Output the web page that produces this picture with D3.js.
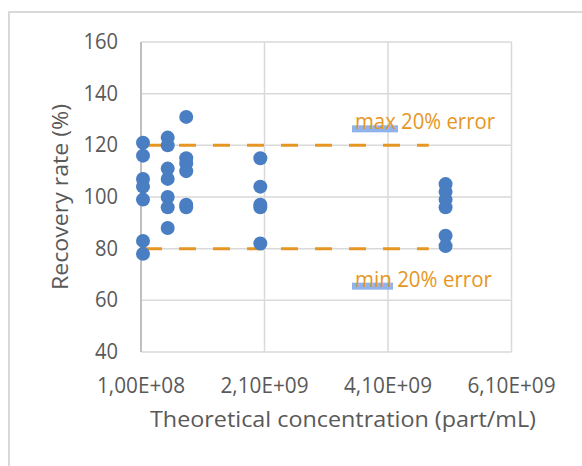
<!DOCTYPE html>
<html>
<head>
<meta charset="utf-8">
<script src="https://cdn.jsdelivr.net/npm/d3@7"></script>
<style>
  body { margin: 0; background: #fff; }
  text { font-family: "Open Sans", sans-serif; fill: #595959; }
</style>
</head>
<body>
<script>
// measured points, x = theoretical concentration, y = recovery rate (%)
const concentrations = [1e8, 5e8, 8e8, 2e9, 5e9]
const recoveryByConc = [
  [121, 116, 107, 104, 99, 83, 78],
  [123, 120, 111, 107, 100, 96, 88],
  [131, 115, 113, 110, 97, 96],
  [115, 104, 97, 96, 82],
  [105, 102, 99, 96, 85, 81]
]
const xTicks = [1e8, 2.1e9, 4.1e9, 6.1e9]
const yTicks = [40, 60, 80, 100, 120, 140, 160]
const limits = [
  { label: 'max 20% error', value: 120 },
  { label: 'min 20% error', value: 80 }
]
const limitRange = [1e8, 4.76e9]

const width = 582
const height = 466
const margin = { top: 42, right: 70, bottom: 114, left: 141 }

const svg = d3.select('body')
  .append('svg')
  .attr('width', width)
  .attr('height', height)

// outer chart frame
svg.append('rect')
  .attr('x', 9).attr('y', 12)
  .attr('width', width).attr('height', height)
  .attr('fill', 'none')
  .attr('stroke', '#d9d9d9')
  .attr('stroke-width', 2)

const x = d3.scaleLinear()
  .domain([1e8, 6.1e9])
  .range([margin.left, width - margin.right - 0.5])

const y = d3.scaleLinear()
  .domain([40, 160])
  .range([height - margin.bottom, margin.top])

const fmt = d => d3.format('.2e')(d).replace('.', ',').replace('e+', 'E+0').toUpperCase()

// grid
const grid = svg.append('g')
grid.selectAll('.hgrid')
  .data(yTicks)
  .enter()
  .append('line')
  .attr('x1', x.range()[0]).attr('x2', x.range()[1])
  .attr('y1', d => y(d)).attr('y2', d => y(d))
  .attr('stroke', '#d9d9d9')
  .attr('stroke-width', 1.5)
grid.selectAll('.vgrid')
  .data(xTicks)
  .enter()
  .append('line')
  .attr('x1', d => x(d)).attr('x2', d => x(d))
  .attr('y1', y.range()[0]).attr('y2', y.range()[1])
  .attr('stroke', d => d === xTicks[0] ? '#bfbfbf' : '#d9d9d9')
  .attr('stroke-width', d => d === xTicks[0] ? 2 : 1.5)

// tick labels
svg.append('g')
  .selectAll('text')
  .data(yTicks)
  .enter()
  .append('text')
  .attr('x', margin.left - 23)
  .attr('y', d => y(d) + 7)
  .attr('text-anchor', 'end')
  .attr('font-size', 21)
  .attr('textLength', d => String(d).length * 11.5)
  .attr('lengthAdjust', 'spacingAndGlyphs')
  .text(d => d)

svg.append('g')
  .selectAll('text')
  .data(xTicks)
  .enter()
  .append('text')
  .attr('x', d => x(d))
  .attr('y', y(40) + 41)
  .attr('text-anchor', 'middle')
  .attr('font-size', 21)
  .attr('textLength', 88)
  .attr('lengthAdjust', 'spacingAndGlyphs')
  .text(fmt)

// axis titles
svg.append('text')
  .attr('x', 343)
  .attr('y', 427)
  .attr('text-anchor', 'middle')
  .attr('font-size', 22)
  .attr('textLength', 386)
  .attr('lengthAdjust', 'spacingAndGlyphs')
  .text('Theoretical concentration (part/mL)')

svg.append('text')
  .attr('transform', `translate(68, 197) rotate(-90)`)
  .attr('text-anchor', 'middle')
  .attr('font-size', 22)
  .attr('textLength', 186)
  .attr('lengthAdjust', 'spacingAndGlyphs')
  .text('Recovery rate (%)')

// error limits
svg.append('g')
  .selectAll('line')
  .data(limits)
  .enter()
  .append('line')
  .attr('x1', x(limitRange[0]) + 4).attr('x2', x(limitRange[1]))
  .attr('y1', d => y(d.value)).attr('y2', d => y(d.value))
  .attr('stroke', '#e69622')
  .attr('stroke-width', 3)
  .attr('stroke-dasharray', '17 17')

const lab = svg.append('g')
  .selectAll('g')
  .data(limits)
  .enter()
  .append('g')
  .attr('transform', d => `translate(352, ${d.value > 100 ? y(d.value) - 16 : y(d.value) + 38})`)
lab.append('rect')
  .attr('x', 0).attr('y', -4)
  .attr('width', d => d.value > 100 ? 46 : 41)
  .attr('height', 7)
  .attr('fill', '#8fb3ea')
lab.append('text')
  .attr('x', 3)
  .attr('font-size', 21)
  .attr('textLength', d => d.value > 100 ? 140 : 137)
  .attr('lengthAdjust', 'spacingAndGlyphs')
  .style('fill', '#e69622')
  .text(d => d.label)

// points
const points = concentrations.flatMap((c, i) => recoveryByConc[i].map(v => ({ c, v })))
svg.append('g')
  .selectAll('circle')
  .data(points)
  .enter()
  .append('circle')
  .attr('cx', d => x(d.c) + 2)
  .attr('cy', d => y(d.v))
  .attr('r', 7)
  .attr('fill', '#4a7ec2')
</script>
</body>
</html>
